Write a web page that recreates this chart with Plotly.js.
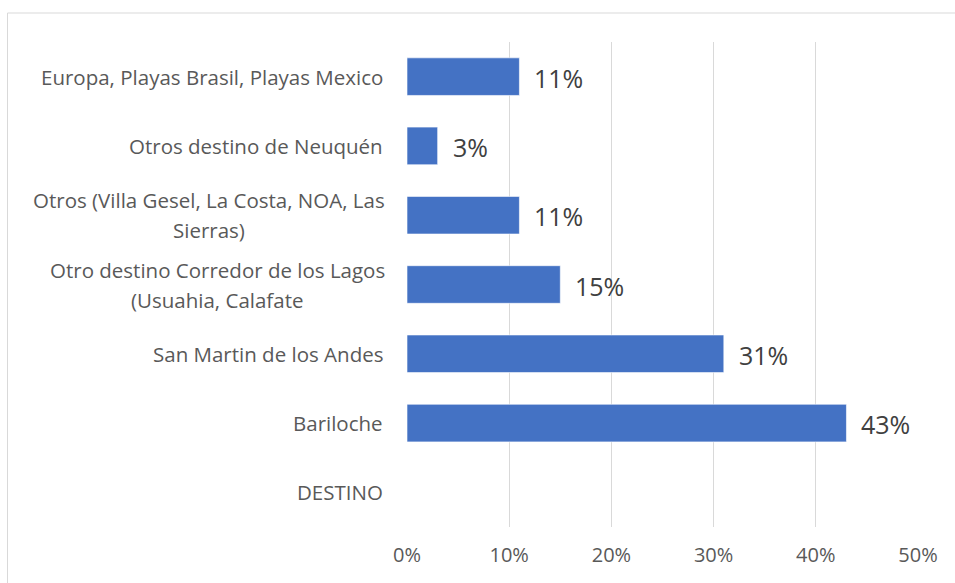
<!DOCTYPE html>
<html>
<head>
<meta charset="utf-8">
<script src="https://cdn.plot.ly/plotly-3.0.1.min.js"></script>
<style>
html,body{margin:0;padding:0;background:#fff;}
#chart{width:955px;height:583px;}
</style>
</head>
<body>
<div id="chart"></div>
<script>
// Data (bottom to top)
const categories = [
  "DESTINO",
  "Bariloche",
  "San Martin de los Andes",
  "Otro destino Corredor de los Lagos<br>(Usuahia, Calafate",
  "Otros (Villa Gesel, La Costa, NOA, Las<br>Sierras)",
  "Otros destino de Neuquén",
  "Europa, Playas Brasil, Playas Mexico"
];
const values = [null, 43, 31, 15, 11, 3, 11];
const valueLabels = ["", "43%", "31%", "15%", "11%", "3%", "11%"];
const xTickVals = [0, 10, 20, 30, 40, 50];
const xTickText = ["0%", "10%", "20%", "30%", "40%", "50%"];

const FONT = "Open Sans";
const CAT_SIZE = 20.5;
const LINE_H = 30;
const LABEL_GAP = 22;

// text width measurement for centering multi-line labels
const ctx = document.createElement("canvas").getContext("2d");
ctx.font = CAT_SIZE + "px 'Open Sans'";
function textW(s){ return ctx.measureText(s).width; }

const trace = {
  type: "bar",
  orientation: "h",
  x: values,
  y: categories,
  marker: {color: "#4472C4", line: {color: "#ffffff", width: 0.6}},
  hoverinfo: "x+y"
};

const annotations = [];
categories.forEach((c) => {
  const lines = c.split("<br>");
  const ws = lines.map(textW);
  const maxW = Math.max(...ws);
  lines.forEach((ln, i) => {
    annotations.push({
      xref: "paper", yref: "y",
      x: 0, y: c,
      text: ln,
      showarrow: false,
      xanchor: lines.length > 1 ? "center" : "right",
      yanchor: "middle",
      xshift: lines.length > 1 ? -LABEL_GAP - maxW / 2 : -LABEL_GAP,
      yshift: ((lines.length - 1) / 2 - i) * LINE_H,
      font: {family: FONT, size: CAT_SIZE, color: "#595959"}
    });
  });
});
values.forEach((v, i) => {
  if (v === null) return;
  annotations.push({
    xref: "x", yref: "y",
    x: v, y: categories[i],
    text: valueLabels[i],
    showarrow: false,
    xanchor: "left", yanchor: "middle",
    xshift: 13, yshift: -1,
    font: {family: FONT, size: 25, color: "#404040"}
  });
});

const layout = {
  width: 955, height: 583,
  margin: {l: 407, r: 37, t: 42, b: 56},
  paper_bgcolor: "#ffffff",
  plot_bgcolor: "#ffffff",
  showlegend: false,
  bargap: 0.457,
  font: {family: FONT},
  xaxis: {
    range: [0, 50],
    tickvals: xTickVals,
    ticktext: xTickText,
    showgrid: true,
    gridcolor: "#d9d9d9",
    gridwidth: 1,
    zeroline: false,
    showline: false,
    ticks: "",
    ticklabelstandoff: 14,
    tickfont: {family: FONT, size: 20, color: "#595959"},
    fixedrange: true
  },
  yaxis: {
    type: "category",
    categoryorder: "array",
    categoryarray: categories,
    showticklabels: false,
    showgrid: false,
    zeroline: false,
    showline: false,
    ticks: "",
    fixedrange: true
  },
  annotations: annotations,
  shapes: [{
    type: "rect", xref: "paper", yref: "paper",
    x0: -399.5 / 511, x1: 2,
    y0: -2, y1: 1 + 29 / 485,
    line: {color: "#d9d9d9", width: 1},
    fillcolor: "rgba(0,0,0,0)",
    layer: "below"
  }]
};

Plotly.newPlot("chart", [trace], layout, {displayModeBar: false, staticPlot: true});
</script>
</body>
</html>
